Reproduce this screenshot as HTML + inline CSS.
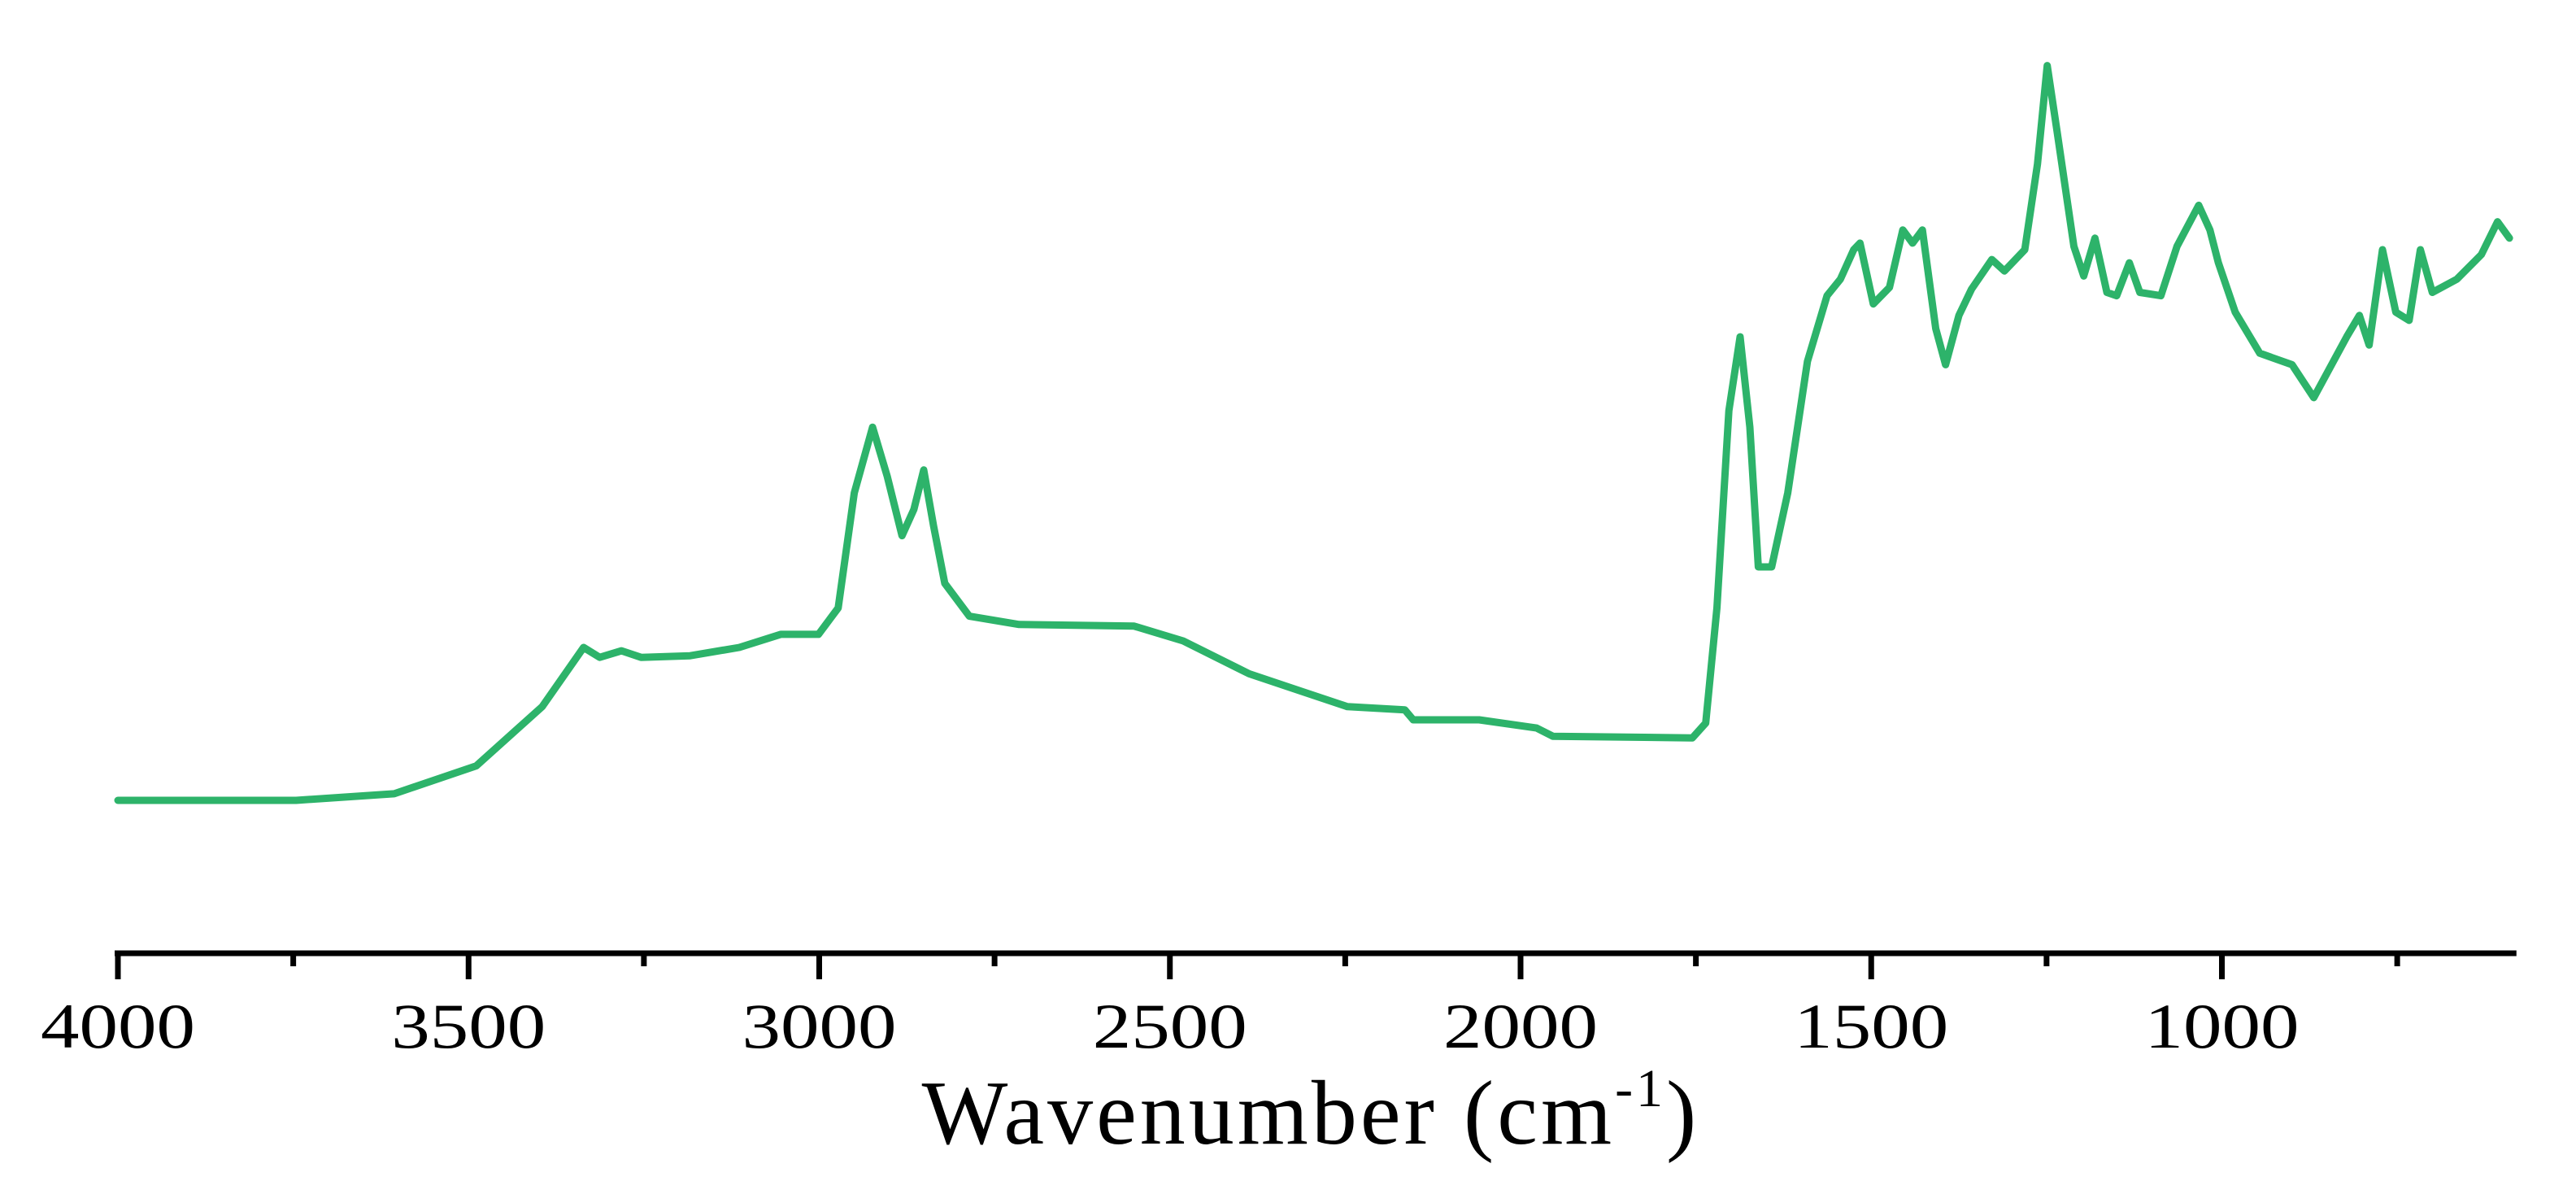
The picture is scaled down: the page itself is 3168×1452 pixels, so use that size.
<!DOCTYPE html>
<html><head><meta charset="utf-8"><style>
html,body{margin:0;padding:0;background:#fff}
svg{display:block}
</style></head><body>
<svg id="chart" width="3168" height="1452" viewBox="0 0 3168 1452" xmlns="http://www.w3.org/2000/svg">
<g id="axis"></g>
<path id="line" fill="none" stroke="#2db36a" stroke-width="9" stroke-linejoin="round" stroke-linecap="round"/>
<text x="1612" y="1406" text-anchor="middle" font-family="Liberation Serif, serif" font-size="112" letter-spacing="4">Wavenumber (cm<tspan dy="-46" font-size="66">-1</tspan><tspan dy="46">)</tspan></text>
</svg>
<script>
const wavenumbers = [4000,3746,3606,3489,3395,3336,3313,3282,3254,3184,3114,3055,3001,2973,2950,2924,2903,2882,2865,2851,2837,2821,2786,2715,2551,2481,2387,2317,2247,2165,2153,2059,1977,1954,1755,1736,1720,1703,1687,1673,1661,1642,1619,1591,1563,1544,1525,1516,1497,1474,1455,1441,1427,1408,1394,1375,1357,1328,1310,1281,1263,1249,1235,1211,1197,1181,1164,1150,1132,1117,1087,1064,1033,1017,1005,981,946,900,869,841,822,804,790,771,752,733,717,700,665,630,607,590];
const intensity = [0,0,4,21,57,93,87,91,87,88,93,101,101,117,187,227,197,161,177,201,167,132,112,107,106,97,77,67,57,55,49,49,44,39,38,47,117,237,282,227,142,142,187,267,307,317,335,339,302,312,347,339,347,287,265,295,311,329,322,335,387,447,407,337,319,342,309,307,327,309,307,337,362,347,327,297,272,265,245,267,282,295,277,335,297,292,335,309,317,332,352,342];
const tickValues = [4000,3500,3000,2500,2000,1500,1000];
const minorTickValues = [3750,3250,2750,2250,1750,1250,750];
const xMax = 4000, xMin = 580;
const X0 = 145, pxPerUnit = 0.8625;
function xs(w){ return X0 + (xMax - w) * pxPerUnit; }
function ys(v){ return 984 - v * 2.021; }
const NS = "http://www.w3.org/2000/svg";
const axis = document.getElementById('axis');
const axisY = 1172;
const base = document.createElementNS(NS,'line');


base.setAttribute('x1', xs(xMax)-4); base.setAttribute('x2', xs(xMin));
base.setAttribute('y1', axisY); base.setAttribute('y2', axisY);
base.setAttribute('stroke', '#000'); base.setAttribute('stroke-width', '7');
axis.appendChild(base);
tickValues.forEach(t => {
  const l = document.createElementNS(NS,'line');
  
  
  l.setAttribute('x1', xs(t)); l.setAttribute('x2', xs(t));
  l.setAttribute('y1', axisY); l.setAttribute('y2', axisY + 32);
  l.setAttribute('stroke', '#000'); l.setAttribute('stroke-width', '7');
  axis.appendChild(l);
  const tx = document.createElementNS(NS,'text');
  
  
  tx.setAttribute('x', xs(t) - 95); tx.setAttribute('y', 1288);
  tx.setAttribute('font-family', 'Liberation Serif, serif');
  tx.setAttribute('font-size', '78');
  tx.setAttribute('textLength', '190');
  tx.setAttribute('lengthAdjust', 'spacingAndGlyphs');
  tx.textContent = t;
  axis.appendChild(tx);
});
minorTickValues.forEach(t => {
  const l = document.createElementNS(NS,'line');
  
  
  l.setAttribute('x1', xs(t)); l.setAttribute('x2', xs(t));
  l.setAttribute('y1', axisY); l.setAttribute('y2', axisY + 16);
  l.setAttribute('stroke', '#000'); l.setAttribute('stroke-width', '7');
  axis.appendChild(l);
});
let d = '';
wavenumbers.forEach((w,i) => { d += (i ? 'L' : 'M') + xs(w).toFixed(1) + ',' + ys(intensity[i]).toFixed(1); });
document.getElementById('line').setAttribute('d', d);
</script>
</body></html>
